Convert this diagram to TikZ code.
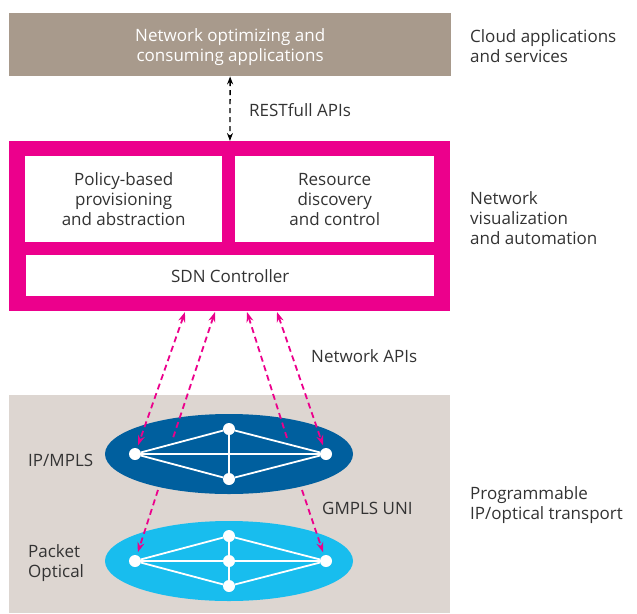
\documentclass[tikz,border=0pt]{standalone}
\usepackage{fontspec}
\setmainfont{Open Sans}
\usetikzlibrary{arrows.meta, positioning, shapes.geometric}
\definecolor{appbrown}{HTML}{A89A8C}
\definecolor{sdnpink}{HTML}{EC008C}
\definecolor{transbg}{HTML}{DDD6D1}
\definecolor{ipblue}{HTML}{005F9E}
\definecolor{pkblue}{HTML}{18BDEE}
\definecolor{txtgray}{HTML}{333333}
\begin{document}
\begin{tikzpicture}[x=1pt,y=-1pt,
  font=\fontsize{17}{20}\selectfont, text=txtgray,
  box/.style={inner sep=0pt, align=center, anchor=north west},
  lbl/.style={inner sep=0pt, align=left, anchor=west},
  netdot/.style={circle, fill=white, inner sep=0pt, minimum size=12pt},
  netline/.style={white, line width=1.8pt},
  apiarrow/.style={sdnpink, line width=1.8pt, dash pattern=on 6pt off 4pt,
    arrows={-Stealth[length=10pt,width=7pt]}},
  restarrow/.style={black, line width=1.4pt, dash pattern=on 5pt off 4pt,
    arrows={Stealth[length=8pt,width=6pt]-Stealth[length=8pt,width=6pt]}}]
\useasboundingbox (0,0) rectangle (637,613);

% Layers
\node[box, fill=appbrown, text=white, minimum width=442pt, minimum height=63pt, text depth=-4pt] (apps) at (9,13) {Network optimizing and\\consuming applications};
\node[box, fill=sdnpink, minimum width=441pt, minimum height=170pt] (ctrl) at (9,141) {};
\node[box, fill=white, minimum width=197pt, minimum height=86pt] (policy) at (25,156) {Policy-based\\provisioning\\and abstraction};
\node[box, fill=white, minimum width=199pt, minimum height=86pt] (resource) at (235,156) {Resource\\discovery\\and control};
\node[box, fill=white, minimum width=408pt, minimum height=41pt, text depth=-2pt] (sdn) at (26,255) {SDN Controller};
\node[box, fill=transbg, minimum width=441pt, minimum height=218pt] (transport) at (9,395) {};

% Networks
\node[ellipse, fill=ipblue, minimum width=248pt, minimum height=80pt] (ip) at (229,454) {};
\node[ellipse, fill=pkblue, minimum width=248pt, minimum height=80pt] (pk) at (229,561) {};

\node[netdot] (ipL) at (135,454) {};
\node[netdot] (ipR) at (326,454) {};
\node[netdot] (ipT) at (229,429) {};
\node[netdot] (ipB) at (229,479) {};
\draw[netline] (ipL) -- (ipT) -- (ipR) -- (ipB) -- (ipL) -- (ipR);
\draw[netline] (ipT) -- (ipB);

\node[netdot] (pkL) at (135,561) {};
\node[netdot] (pkR) at (326,561) {};
\node[netdot] (pkT) at (229,536) {};
\node[netdot] (pkM) at (229,561) {};
\node[netdot] (pkB) at (229,586) {};
\draw[netline] (pkL) -- (pkT) -- (pkR) -- (pkB) -- (pkL) -- (pkM) -- (pkR);
\draw[netline] (pkT) -- (pkM) -- (pkB);

% APIs
\draw[restarrow] (apps) -- (ctrl);
\coordinate (a1) at (185,312);
\coordinate (a2) at (215,312);
\coordinate (a3) at (247,312);
\coordinate (a4) at (277,312);
\coordinate (e2) at (173,438);
\coordinate (e3) at (287,438);
\coordinate (u1) at (158,490);
\coordinate (u2) at (302,490);
\draw[apiarrow, arrows={Stealth[length=10pt,width=7pt]-Stealth[length=10pt,width=7pt]}, shorten >=3pt] (a1) -- (ipL);
\draw[apiarrow, arrows={Stealth[length=10pt,width=7pt]-}] (a2) -- (e2);
\draw[apiarrow, arrows={Stealth[length=10pt,width=7pt]-}] (a3) -- (e3);
\draw[apiarrow, arrows={Stealth[length=10pt,width=7pt]-Stealth[length=10pt,width=7pt]}, shorten >=3pt] (a4) -- (ipR);
\draw[apiarrow, shorten >=3pt] (u1) -- (pkL);
\draw[apiarrow, shorten >=3pt] (u2) -- (pkR);

% Labels
\node[lbl, anchor=center] (rest) at (300,110) {RESTfull APIs};
\node[lbl] (netapi) at (311,356) {Network APIs};
\node[lbl] (iplbl) at (28,460) {IP/MPLS};
\node[lbl] (pklbl) at (28,563) {Packet\\Optical};
\node[lbl] (uni) at (322,508) {GMPLS UNI};
\node[lbl] (cloud) at (470,46) {Cloud applications\\and services};
\node[lbl] (visual) at (470,218) {Network\\visualization\\and automation};
\node[lbl] (prog) at (470,505) {Programmable\\IP/optical transport};
\end{tikzpicture}
\end{document}
